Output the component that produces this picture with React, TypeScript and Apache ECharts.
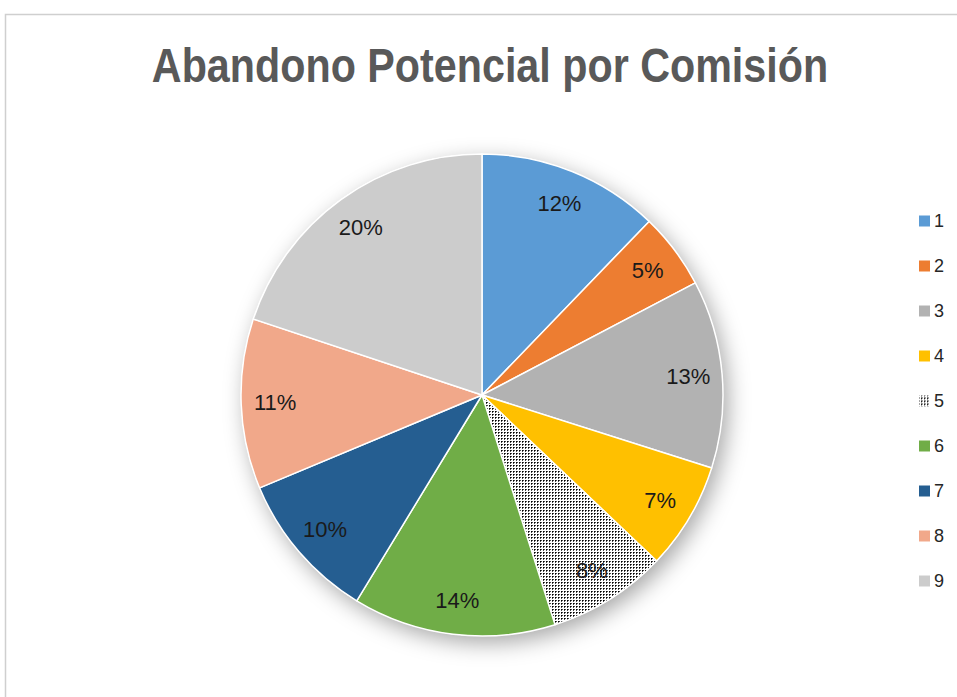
import React, { useEffect, useRef } from "react";
import * as echarts from "echarts";

const titleText = "Abandono Potencial por Comisión";
const categories = ["1", "2", "3", "4", "5", "6", "7", "8", "9"];
const values = [12.2, 5.1, 12.6, 7.2, 8.0, 13.6, 10.0, 11.4, 19.9];
const colors = ["#5B9BD5", "#ED7D31", "#B2B2B2", "#FFC000", "PATTERN", "#70AD47", "#255E91", "#F1A88A", "#CCCCCC"];

function makePattern(): any {
  const c = document.createElement("canvas");
  c.width = 3;
  c.height = 3;
  const ctx = c.getContext("2d")!;
  ctx.fillStyle = "#ffffff";
  ctx.fillRect(0, 0, 3, 3);
  ctx.fillStyle = "#000000";
  ctx.fillRect(0, 0, 1, 1);
  ctx.fillStyle = "#4a4a4a";
  ctx.fillRect(1, 0, 1, 1);
  ctx.fillRect(0, 1, 1, 1);
  return { image: c, repeat: "repeat" };
}

export default function App() {
  const ref = useRef<HTMLDivElement>(null);
  useEffect(() => {
    if (!ref.current) return;
    const chart = echarts.init(ref.current, null, { renderer: "svg" });
    const pattern = makePattern();
    const cx = 482;
    const cy = 395;
    const r = 241;
    const data = categories.map((name, i) => ({
      name,
      value: values[i],
      itemStyle: { color: colors[i] === "PATTERN" ? pattern : colors[i] },
    }));
    chart.setOption({
      animation: false,
      backgroundColor: "#ffffff",
      legend: {
        orient: "vertical",
        left: 912,
        top: 206,
        data: categories,
        icon: "rect",
        itemWidth: 13,
        itemHeight: 13,
        itemGap: 25,
        selectedMode: false,
        textStyle: {
          fontFamily: "'Liberation Sans', sans-serif",
          fontSize: 18,
          lineHeight: 20,
          color: "#262626",
          padding: [0, 0, 0, -2],
        },
      },
      graphic: [
        {
          type: "rect",
          shape: { x: 5.5, y: 14.5, width: 1200, height: 1200 },
          style: { fill: "none", stroke: "#cfcfcf", lineWidth: 1.5 },
          silent: true,
          z: -10,
        },
        {
          type: "text",
          x: 490,
          y: 65,
          scaleX: 0.86,
          silent: true,
          style: {
            text: titleText,
            fontFamily: "'Liberation Sans', sans-serif",
            fontWeight: "bold",
            fontSize: 48,
            fill: "#595959",
            textAlign: "center",
            textVerticalAlign: "middle",
          },
        },
      ],
      series: [
        {
          type: "pie",
          center: [cx, cy],
          radius: [0, r],
          silent: true,
          z: 1,
          label: { show: false },
          labelLine: { show: false },
          data: [{ name: "", value: 1, itemStyle: { color: "#ffffff" } }],
          itemStyle: {
            shadowBlur: 22,
            shadowColor: "rgba(0,0,0,0.35)",
            shadowOffsetX: 5,
            shadowOffsetY: 7,
          },
        },
        {
          type: "pie",
          center: [cx, cy],
          radius: [0, r],
          startAngle: 90,
          clockwise: true,
          silent: true,
          z: 2,
          label: { show: false },
          labelLine: { show: false },
          itemStyle: { borderColor: "#ffffff", borderWidth: 1.5 },
          data,
        },
        {
          type: "pie",
          center: [cx, cy],
          radius: [167, r],
          startAngle: 90,
          clockwise: true,
          silent: true,
          z: 3,
          itemStyle: { color: "rgba(0,0,0,0)", borderWidth: 0 },
          labelLine: { show: false },
          label: {
            show: true,
            position: "inside",
            formatter: (p: any) => Math.round(p.percent) + "%",
            fontFamily: "'Liberation Sans', sans-serif",
            fontSize: 22,
            color: "#1a1a1a",
          },
          data: categories.map((name, i) => ({ name, value: values[i] })),
        },
      ],
    });
    return () => chart.dispose();
  }, []);
  return (
    <div
      ref={ref}
      style={{ position: "fixed", left: 0, top: 0, width: 957, height: 697 }}
    />
  );
}
